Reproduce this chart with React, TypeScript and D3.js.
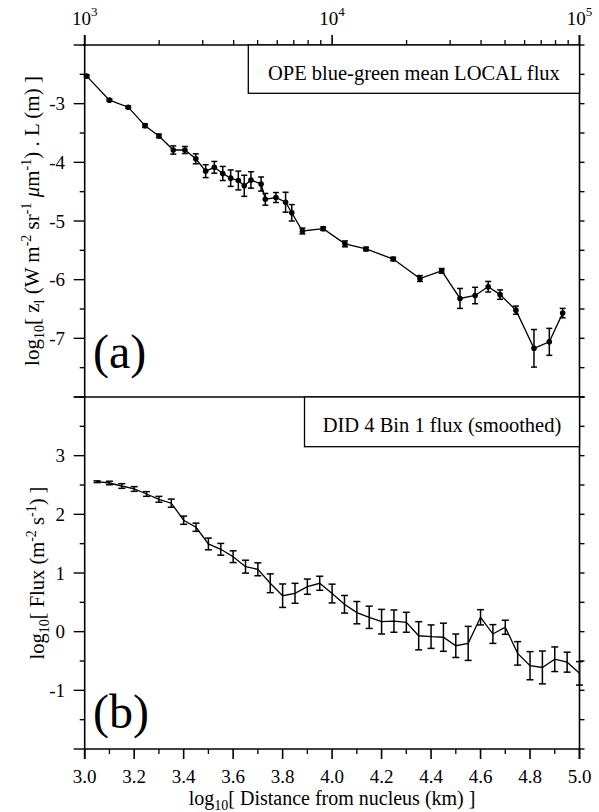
import React from "react";
import * as d3 from "d3";

// panel (a): OPE blue-green mean LOCAL flux
const opeLogD = [3.008, 3.1, 3.176, 3.244, 3.3, 3.358, 3.405, 3.449, 3.489, 3.524, 3.558, 3.59, 3.621, 3.645, 3.672, 3.713, 3.73, 3.773, 3.812, 3.837, 3.88, 3.964, 4.052, 4.137, 4.247, 4.355, 4.443, 4.517, 4.578, 4.631, 4.679, 4.743, 4.816, 4.878, 4.932];
const opeFlux = [-2.53, -2.94, -3.06, -3.375, -3.55, -3.79, -3.79, -3.94, -4.15, -4.085, -4.19, -4.27, -4.31, -4.4, -4.3, -4.37, -4.63, -4.6, -4.68, -4.86, -5.17, -5.13, -5.39, -5.477, -5.648, -5.98, -5.85, -6.32, -6.27, -6.12, -6.255, -6.52, -7.17, -7.06, -6.57];
const opeErr = [0.02, 0.02, 0.02, 0.03, 0.03, 0.07, 0.06, 0.085, 0.11, 0.1, 0.12, 0.14, 0.16, 0.18, 0.14, 0.12, 0.1, 0.085, 0.17, 0.14, 0.05, 0.03, 0.05, 0.03, 0.03, 0.05, 0.04, 0.17, 0.14, 0.09, 0.08, 0.07, 0.32, 0.23, 0.08];

// panel (b): DID 4 Bin 1 flux (smoothed)
const didLogD = [3.05, 3.1, 3.15, 3.2, 3.25, 3.3, 3.35, 3.4, 3.45, 3.5, 3.55, 3.6, 3.65, 3.7, 3.75, 3.8, 3.85, 3.9, 3.95, 4.0, 4.05, 4.1, 4.15, 4.2, 4.25, 4.3, 4.35, 4.4, 4.45, 4.5, 4.55, 4.6, 4.65, 4.7, 4.75, 4.8, 4.85, 4.9, 4.95, 5.0];
const didFlux = [2.556, 2.534, 2.483, 2.432, 2.347, 2.256, 2.19, 1.9, 1.78, 1.495, 1.404, 1.278, 1.108, 1.063, 0.825, 0.613, 0.654, 0.767, 0.825, 0.65, 0.467, 0.324, 0.245, 0.17, 0.18, 0.16, -0.07, -0.085, -0.095, -0.24, -0.2, 0.245, -0.04, 0.075, -0.37, -0.58, -0.61, -0.47, -0.52, -0.71];
const didErr = [0.015, 0.03, 0.04, 0.04, 0.04, 0.05, 0.07, 0.07, 0.07, 0.1, 0.1, 0.1, 0.11, 0.11, 0.16, 0.2, 0.17, 0.13, 0.12, 0.16, 0.15, 0.19, 0.19, 0.21, 0.19, 0.17, 0.24, 0.2, 0.24, 0.2, 0.29, 0.13, 0.16, 0.12, 0.2, 0.24, 0.28, 0.21, 0.17, 0.2];

const xTickLabels = ["3.0", "3.2", "3.4", "3.6", "3.8", "4.0", "4.2", "4.4", "4.6", "4.8", "5.0"];
const yTicksA = [-7, -6, -5, -4, -3];
const yTicksB = [-1, 0, 1, 2, 3];
const topExps = [3, 4, 5];

const W = 599;
const H = 812;
const L = 84.7;
const R = 579.5;
const TOP = 45;
const MID = 397;
const BOT = 749;
const FONT = "'Liberation Serif', 'Times New Roman', serif";

export default function App() {
  const x = d3.scaleLinear().domain([3, 5]).range([L, R]);
  const xLog = d3.scaleLog().domain([1e3, 1e5]).range([L, R]);
  const yA = d3.scaleLinear().domain([-8, -2]).range([MID, TOP]);
  const yB = d3.scaleLinear().domain([-2, 4]).range([BOT, MID]);

  const lineA = d3
    .line<number>()
    .x((d, i) => x(opeLogD[i]))
    .y((d) => yA(d));
  const lineB = d3
    .line<number>()
    .x((d, i) => x(didLogD[i]))
    .y((d) => yB(d));

  const minorX = d3.range(30, 51).map((v) => v / 10);
  const minorTop = [3, 4].flatMap((e) => d3.range(2, 10).map((m) => m * Math.pow(10, e)));
  const halfA = d3.range(-16, -3).map((v) => v / 2);
  const halfB = d3.range(-4, 9).map((v) => v / 2);

  const stroke = "#000";

  return (
    <svg width={W} height={H} style={{ display: "block", position: "absolute", left: 0, top: 0, background: "#fff" }} fontFamily={FONT}>
      <rect width={W} height={H} fill="#fff" />

      {/* frame */}
      <line x1={L} x2={L} y1={TOP - 10} y2={BOT + 10} stroke={stroke} strokeWidth={1.6} />
      <line x1={R} x2={R} y1={TOP - 10} y2={BOT + 10} stroke={stroke} strokeWidth={1.6} />
      <line x1={L - 2} x2={R} y1={TOP} y2={TOP} stroke={stroke} strokeWidth={1.6} />
      <line x1={L - 5} x2={R + 5} y1={MID} y2={MID} stroke={stroke} strokeWidth={1.6} />
      <line x1={L} x2={R} y1={BOT} y2={BOT} stroke={stroke} strokeWidth={1.6} />

      {/* top log axis */}
      {minorTop.map((v) => (
        <line key={"tm" + v} x1={xLog(v)} x2={xLog(v)} y1={TOP} y2={TOP - 5} stroke={stroke} strokeWidth={1.3} />
      ))}
      {topExps.map((e) => (
        <g key={"te" + e}>
          <line x1={xLog(Math.pow(10, e))} x2={xLog(Math.pow(10, e))} y1={TOP} y2={TOP - 10} stroke={stroke} strokeWidth={1.6} />
          <text x={xLog(Math.pow(10, e))} y={25} textAnchor="middle" fontSize={19}>
            10<tspan dy={-9} fontSize={13}>{e}</tspan>
          </text>
        </g>
      ))}

      {/* bottom axis */}
      {minorX.map((v) => {
        const major = Math.round(v * 10) % 2 === 0;
        return (
          <line key={"bx" + v} x1={x(v)} x2={x(v)} y1={BOT} y2={BOT + (major ? 10 : 5)} stroke={stroke} strokeWidth={major ? 1.6 : 1.3} />
        );
      })}
      {xTickLabels.map((t) => (
        <text key={"xl" + t} x={x(+t)} y={783} textAnchor="middle" fontSize={19}>
          {t}
        </text>
      ))}
      <text x={(L + R) / 2} y={805} textAnchor="middle" fontSize={20}>
        log<tspan dy={5} fontSize={14}>10</tspan>
        <tspan dy={-5}>[ Distance from nucleus (km) ]</tspan>
      </text>

      {/* left / right ticks panel a */}
      {halfA.map((v) => {
        const major = Number.isInteger(v);
        return (
          <g key={"ya" + v}>
            <line x1={L} x2={L - (major ? 11 : 5)} y1={yA(v)} y2={yA(v)} stroke={stroke} strokeWidth={1.4} />
            <line x1={R} x2={R + 5} y1={yA(v)} y2={yA(v)} stroke={stroke} strokeWidth={1.4} />
          </g>
        );
      })}
      {yTicksA.map((v) => (
        <text key={"yla" + v} x={65} y={yA(v) + 6.5} textAnchor="end" fontSize={19}>
          {v}
        </text>
      ))}

      {/* left / right ticks panel b */}
      {halfB.map((v) => {
        const major = Number.isInteger(v);
        return (
          <g key={"yb" + v}>
            <line x1={L} x2={L - (major ? 11 : 5)} y1={yB(v)} y2={yB(v)} stroke={stroke} strokeWidth={1.4} />
            <line x1={R} x2={R + 5} y1={yB(v)} y2={yB(v)} stroke={stroke} strokeWidth={1.4} />
          </g>
        );
      })}
      {yTicksB.map((v) => (
        <text key={"ylb" + v} x={65} y={yB(v) + 6.5} textAnchor="end" fontSize={19}>
          {v}
        </text>
      ))}

      {/* y titles */}
      <text transform={`translate(39,${(TOP + MID) / 2}) rotate(-90)`} textAnchor="middle" fontSize={21}>
        log<tspan dy={5} fontSize={14}>10</tspan>
        <tspan dy={-5}>[ z</tspan>
        <tspan dy={5} fontSize={14}>l</tspan>
        <tspan dy={-5}>{" (W m"}</tspan>
        <tspan dy={-8} fontSize={14}>-2</tspan>
        <tspan dy={8}>{" sr"}</tspan>
        <tspan dy={-8} fontSize={14}>-1</tspan>
        <tspan dy={8}>{"  "}</tspan>
        <tspan fontStyle="italic">μ</tspan>
        <tspan>m</tspan>
        <tspan dy={-8} fontSize={14}>-1</tspan>
        <tspan dy={8}>{") . L (m) ]"}</tspan>
      </text>
      <text transform={`translate(44,${(MID + BOT) / 2}) rotate(-90)`} textAnchor="middle" fontSize={20.5}>
        log<tspan dy={5} fontSize={14}>10</tspan>
        <tspan dy={-5}>{"[ Flux (m"}</tspan>
        <tspan dy={-8} fontSize={14}>-2</tspan>
        <tspan dy={8}>{" s"}</tspan>
        <tspan dy={-8} fontSize={14}>-1</tspan>
        <tspan dy={8}>{") ]"}</tspan>
      </text>

      {/* legends */}
      <rect x={248.3} y={TOP} width={R - 248.3} height={93.3 - TOP} fill="#fff" stroke={stroke} strokeWidth={1.3} />
      <text x={(248.3 + R) / 2} y={80} textAnchor="middle" fontSize={20.5}>
        OPE blue-green mean LOCAL flux
      </text>
      <rect x={304.5} y={MID} width={R - 304.5} height={446.7 - MID} fill="#fff" stroke={stroke} strokeWidth={1.3} />
      <text x={(304.5 + R) / 2} y={432} textAnchor="middle" fontSize={20.5}>
        DID 4 Bin 1 flux (smoothed)
      </text>

      {/* panel labels */}
      <text x={93} y={368} fontSize={48}>(a)</text>
      <text x={93} y={728} fontSize={48}>(b)</text>

      {/* panel a data */}
      <path d={lineA(opeFlux) ?? ""} fill="none" stroke={stroke} strokeWidth={1.3} />
      {opeFlux.map((v, i) => {
        const cx = x(opeLogD[i]);
        const y1 = yA(v + opeErr[i]);
        const y2 = yA(v - opeErr[i]);
        return (
          <g key={"pa" + i} stroke={stroke} strokeWidth={1.5}>
            <line x1={cx} x2={cx} y1={y1} y2={y2} />
            <line x1={cx - 3} x2={cx + 3} y1={y1} y2={y1} />
            <line x1={cx - 3} x2={cx + 3} y1={y2} y2={y2} />
            <circle cx={cx} cy={yA(v)} r={2.8} fill="#000" strokeWidth={0} />
          </g>
        );
      })}

      {/* panel b data */}
      <path d={lineB(didFlux) ?? ""} fill="none" stroke={stroke} strokeWidth={1.3} />
      {didFlux.map((v, i) => {
        const cx = x(didLogD[i]);
        const y1 = yB(v + didErr[i]);
        const y2 = yB(v - didErr[i]);
        return (
          <g key={"pb" + i} stroke={stroke} strokeWidth={1.5}>
            <line x1={cx} x2={cx} y1={y1} y2={y2} />
            <line x1={cx - 3.5} x2={cx + 3.5} y1={y1} y2={y1} />
            <line x1={cx - 3.5} x2={cx + 3.5} y1={y2} y2={y2} />
          </g>
        );
      })}
    </svg>
  );
}
